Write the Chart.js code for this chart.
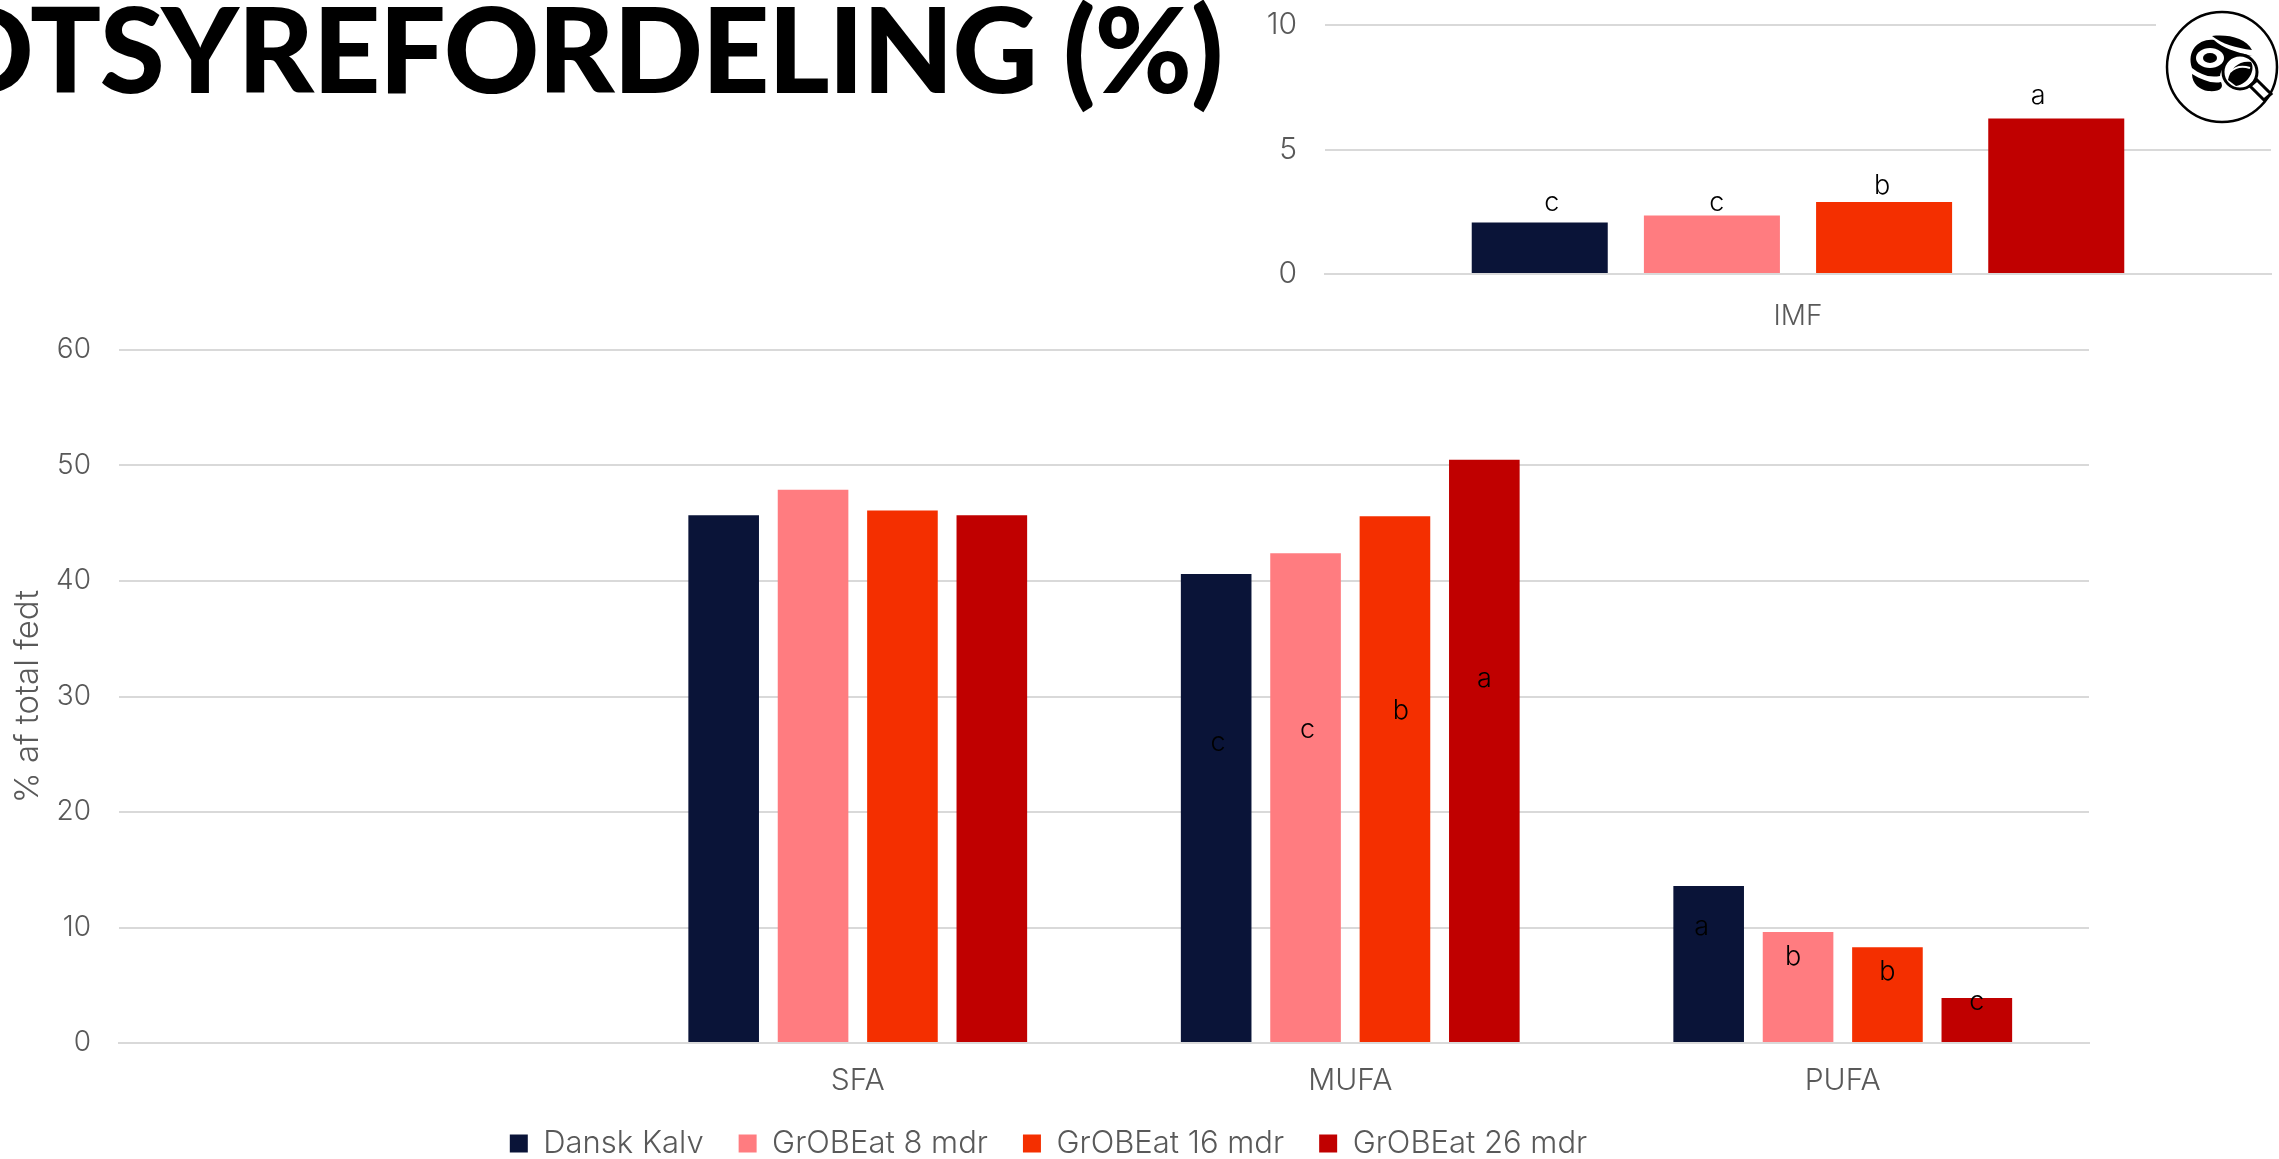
<!DOCTYPE html>
<html>
<head>
<meta charset="utf-8">
<script src="https://cdn.jsdelivr.net/npm/chart.js@4"></script>
<style>
  html, body { margin: 0; padding: 0; background: #fff; width: 2279px; height: 1159px; overflow: hidden; }
  canvas { position: absolute; }
  #fatChart { left: 0; top: 300px; }
  #imfChart { left: 1260px; top: 0; }
  #heading {
    position: absolute; right: 1057px; top: -23px; margin: 0; white-space: nowrap;
    font: 900 118px Lato, sans-serif; color: #000; letter-spacing: -1.4px;
  }
  #badge { position: absolute; left: 2156px; top: 0; }
</style>
</head>
<body>
<h1 id="heading">FEDTSYREFORDELING (%)</h1>
<canvas id="fatChart" width="2100" height="869"></canvas>
<canvas id="imfChart" width="1019" height="340"></canvas>
<svg id="badge" width="123" height="135" viewBox="0 0 123 135">
  <rect width="123" height="135" fill="#fff"/>
  <circle cx="66" cy="67" r="55" fill="#fff" stroke="#000" stroke-width="2.5"/>
  <path d="M36 68 C30 50 44 38 58 40 C66 48 80 52 96 56 C80 54 66 64 64 76 C52 78 44 74 36 68 Z" fill="#000"/>
  <path d="M36 74 C46 80 56 84 65 82 C68 88 64 92 52 91 C44 90 36 84 36 74 Z" fill="#000"/>
  <path d="M56 36 C72 34 90 38 96 50 C80 48 66 44 56 36 Z" fill="#000"/>
  <ellipse cx="54" cy="58" rx="14" ry="10" fill="#fff"/>
  <ellipse cx="54" cy="58" rx="7" ry="5" fill="#000"/>
  <circle cx="84" cy="72" r="17" fill="#fff" stroke="#000" stroke-width="3"/>
  <path d="M72 80 C74 68 84 60 95 62 C100 70 92 84 80 86 Z" fill="#000"/>
  <path d="M74 72 C80 66 88 66 94 68" fill="none" stroke="#fff" stroke-width="2"/>
  <path d="M94 86 L101 80 L115 94 L108 100 Z" fill="#fff" stroke="#000" stroke-width="3"/>
</svg>
<script>
// Fatty acid groups, first slot is left empty on purpose
const fatCategories = ['', 'SFA', 'MUFA', 'PUFA'];
const imfCategories = ['IMF'];

const seriesNames = ['Dansk Kalv', 'GrOBEat 8 mdr', 'GrOBEat 16 mdr', 'GrOBEat 26 mdr'];
const seriesColors = ['#0A1438', '#FF7C80', '#F42F00', '#C00000'];

const kalvValues = [null, 45.7, 40.6, 13.6];
const mdr8Values = [null, 47.9, 42.4, 9.6];
const mdr16Values = [null, 46.1, 45.6, 8.3];
const mdr26Values = [null, 45.7, 50.5, 3.9];

const imfValues = [2.07, 2.35, 2.89, 6.24];

const fatTicks = [0, 10, 20, 30, 40, 50, 60];
const imfTicks = [0, 5, 10];

// significance letters, one list per series
const kalvLetters = [null, null, 'c', 'a'];
const mdr8Letters = [null, null, 'c', 'b'];
const mdr16Letters = [null, null, 'b', 'b'];
const mdr26Letters = [null, null, 'a', 'c'];
const imfLetters = ['c', 'c', 'b', 'a'];

const textColor = '#595959';
const gridColor = '#D9D9D9';
const fontFamily = 'Inter, sans-serif';

// nudge of each letter from its bar tip, in pixels
const fatLetterShift = [
  [null, null, [2, 169], [-7, 41]],
  [null, null, [2, 177], [-5, 25]],
  [null, null, [6, 195], [0, 25]],
  [null, null, [0, 219], [0, 4]]
];
const imfLetterShift = [[12, -20], [5, -13], [-2, -16], [-18, -23]];

const letterPlugin = {
  id: 'barLetters',
  afterDatasetsDraw(chart, args, opts) {
    const ctx = chart.ctx;
    ctx.save();
    ctx.fillStyle = '#000';
    ctx.font = '300 27px ' + fontFamily;
    ctx.textAlign = 'center';
    ctx.textBaseline = 'middle';
    opts.letters.forEach((list, i) => {
      const bars = chart.getDatasetMeta(i).data;
      list.forEach((letter, j) => {
        if (!letter) return;
        const shift = opts.shift[i][j];
        ctx.fillText(letter, bars[j].x + shift[0], bars[j].y + shift[1]);
      });
    });
    ctx.restore();
  }
};

function axisFont(size) {
  return { family: fontFamily, size: size, weight: '300' };
}

function makeDatasets(valueLists) {
  return valueLists.map((values, i) => ({
    label: seriesNames[i],
    data: values,
    backgroundColor: seriesColors[i],
    categoryPercentage: 0.726,
    barPercentage: 0.79
  }));
}

new Chart(document.getElementById('fatChart'), {
  type: 'bar',
  data: {
    labels: fatCategories,
    datasets: makeDatasets([kalvValues, mdr8Values, mdr16Values, mdr26Values])
  },
  plugins: [letterPlugin],
  options: {
    responsive: false,
    animation: false,
    layout: { padding: { top: 50, right: 11, left: 8 } },
    plugins: {
      tooltip: { enabled: false },
      barLetters: {
        letters: [kalvLetters, mdr8Letters, mdr16Letters, mdr26Letters],
        shift: fatLetterShift
      },
      legend: {
        position: 'bottom',
        labels: {
          boxWidth: 18,
          boxHeight: 18,
          padding: 35,
          color: textColor,
          font: axisFont(31)
        }
      }
    },
    scales: {
      x: {
        afterFit(scale) { scale.height = 50; },
        grid: { display: false },
        border: { color: gridColor, width: 2 },
        ticks: { color: textColor, font: axisFont(30), padding: 12, maxRotation: 0 }
      },
      y: {
        min: 0,
        max: 60,
        afterBuildTicks(scale) { scale.ticks = fatTicks.map(v => ({ value: v })); },
        afterFit(scale) { scale.width = 111; },
        grid: { color: gridColor, lineWidth: 2, drawTicks: false },
        border: { display: false },
        ticks: { color: textColor, font: axisFont(28), padding: 28 },
        title: {
          display: true,
          text: '% af total fedt',
          color: textColor,
          font: axisFont(33),
          padding: 0
        }
      }
    }
  }
});

new Chart(document.getElementById('imfChart'), {
  type: 'bar',
  data: {
    labels: imfCategories,
    datasets: seriesNames.map((name, i) => ({
      label: name,
      data: [imfValues[i]],
      backgroundColor: seriesColors[i],
      categoryPercentage: 0.728,
      barPercentage: 0.79
    }))
  },
  plugins: [letterPlugin],
  options: {
    responsive: false,
    animation: false,
    layout: { padding: { top: 25, right: 8 } },
    plugins: {
      legend: { display: false },
      tooltip: { enabled: false },
      barLetters: {
        letters: imfLetters.map(l => [l]),
        shift: imfLetterShift.map(s => [s])
      }
    },
    scales: {
      x: {
        afterFit(scale) { scale.height = 66; },
        grid: { display: false },
        border: { color: gridColor, width: 2 },
        ticks: { color: textColor, font: axisFont(28), padding: 18 }
      },
      y: {
        min: 0,
        max: 10,
        afterBuildTicks(scale) { scale.ticks = imfTicks.map(v => ({ value: v })); },
        // tick padding would otherwise push the plot top down
        afterFit(scale) { scale.width = 65; scale.paddingTop = 0; },
        grid: { color: gridColor, lineWidth: 2, drawTicks: false },
        border: { display: false },
        ticks: { color: textColor, font: axisFont(30), padding: 28 }
      }
    }
  }
});
</script>
</body>
</html>
